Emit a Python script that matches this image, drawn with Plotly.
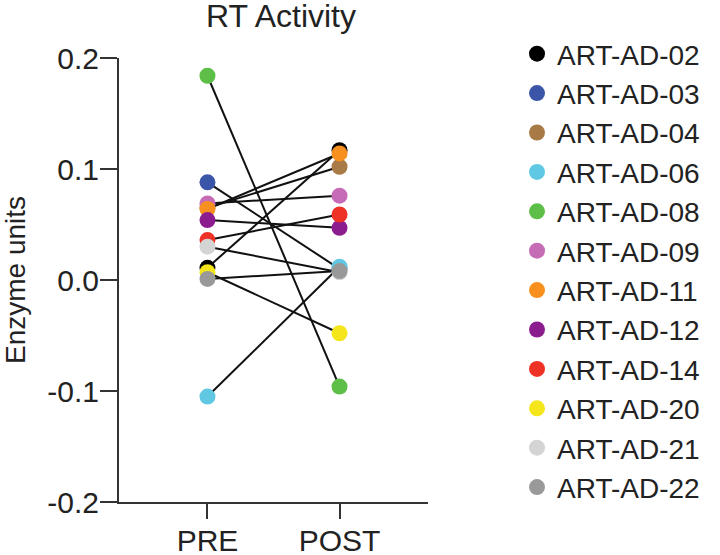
import plotly.graph_objects as go

timepoints = ["PRE", "POST"]
subjects = ["ART-AD-02", "ART-AD-03", "ART-AD-04", "ART-AD-06", "ART-AD-08", "ART-AD-09",
            "ART-AD-11", "ART-AD-12", "ART-AD-14", "ART-AD-20", "ART-AD-21", "ART-AD-22"]
pre_values = [0.011, 0.088, 0.065, -0.105, 0.184, 0.069, 0.064, 0.054, 0.036, 0.007, 0.030, 0.001]
post_values = [0.117, 0.010, 0.102, 0.012, -0.096, 0.076, 0.114, 0.047, 0.059, -0.048, 0.007, 0.008]
colors = ["#000000", "#3b55a8", "#a87a45", "#60c8e2", "#5dbf47", "#c66bb6",
          "#f7901e", "#8c1d8f", "#ee3226", "#f4e61a", "#d4d4d4", "#999999"]
y_ticks = [0.2, 0.1, 0.0, -0.1, -0.2]
y_tick_labels = ["0.2", "0.1", "0.0", "-0.1", "-0.2"]

FONT = "Arial, Liberation Sans, sans-serif"
W, H = 720, 555
L, R, T, B = 119, W - 428, 58, H - 502

fig = go.Figure()

for name, a, b in zip(subjects, pre_values, post_values):
    fig.add_trace(go.Scatter(x=timepoints, y=[a, b], mode="lines",
                             line=dict(color="#111111", width=2),
                             showlegend=False, hoverinfo="skip"))

for name, a, b, c in zip(subjects, pre_values, post_values, colors):
    fig.add_trace(go.Scatter(x=timepoints, y=[a, b], mode="markers", name=name,
                             marker=dict(color=c, size=16, line=dict(width=0))))

fig.update_layout(
    width=W, height=H,
    paper_bgcolor="white", plot_bgcolor="white",
    margin=dict(l=L, r=R, t=T, b=B),
    font=dict(family=FONT, size=28, color="#222222"),
    title=dict(text="RT Activity", x=281 / W, xanchor="center",
               y=1 - 16 / H, yanchor="middle",
               font=dict(family=FONT, size=32, color="#222222")),
    xaxis=dict(type="category", range=[-0.67, 1.67], showline=True, linecolor="#333333",
               linewidth=2, ticks="outside", ticklen=15, tickwidth=2, tickcolor="#333333",
               showgrid=False, zeroline=False, tickfont=dict(size=30),
               automargin=False, ticklabelstandoff=-4),
    yaxis=dict(range=[-0.2, 0.2], tickvals=y_ticks, ticktext=y_tick_labels,
               showline=True, linecolor="#333333", linewidth=2, ticks="outside",
               ticklen=17, tickwidth=2, tickcolor="#333333", showgrid=False,
               zeroline=False, tickfont=dict(size=30), automargin=False,
               ticklabelstandoff=-5,
               title=dict(text="Enzyme units", font=dict(size=28), standoff=27)),
    legend=dict(xref="container", yref="container", x=517 / W, xanchor="left",
                y=1 - 29 / H, yanchor="top", maxheight=540,
                font=dict(size=28, color="#222222"), tracegroupgap=0,
                itemsizing="trace", bgcolor="rgba(0,0,0,0)"),
)

fig.write_html("out.html", config={"displayModeBar": False},
               post_script="document.body.style.margin='0px';")
